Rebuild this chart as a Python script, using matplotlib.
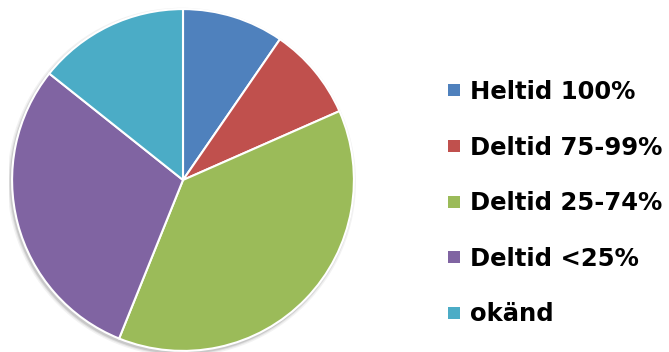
import matplotlib
matplotlib.use("Agg")
import matplotlib.pyplot as plt
from matplotlib.lines import Line2D
from matplotlib.patches import Circle

# Data (percent shares, clockwise from 12 o'clock)
labels = ["Heltid 100%", "Deltid 75-99%", "Deltid 25-74%", "Deltid <25%", "okänd"]
shares = [9.6, 8.8, 37.7, 29.6, 14.3]
colors = ["#4F81BD", "#C0504D", "#9BBB59", "#8064A2", "#4BACC6"]

fig = plt.figure(figsize=(6.69, 3.52), dpi=100)
ax = fig.add_axes([9 / 669, -2 / 352, 348 / 669, 348 / 352])

# soft shadow behind the pie
for r, a in [(1.02, 0.10), (1.012, 0.15), (1.006, 0.25)]:
    ax.add_patch(Circle((-0.008, -0.012), r, color="#808080", alpha=a, lw=0, zorder=0))

wedges, _ = ax.pie(shares, colors=colors, startangle=90, counterclock=False,
                   radius=1.0,
                   wedgeprops=dict(edgecolor="white", linewidth=1.5))
ax.set_xlim(-1.018, 1.018)
ax.set_ylim(-1.018, 1.018)
ax.set_aspect("equal")
ax.axis("off")

handles = [Line2D([], [], marker="s", linestyle="none", markersize=8,
                  markerfacecolor=c, markeredgecolor=c, markeredgewidth=0)
           for c in colors]
fig.legend(handles, labels, loc="center left", bbox_to_anchor=(447 / 669, 0.423),
           frameon=False, borderpad=0, borderaxespad=0, handlelength=0.55,
           handletextpad=0.38, labelspacing=1.3,
           prop=dict(family="DejaVu Sans", weight="bold", size=17.5))

fig.savefig("out.png", dpi=100)
